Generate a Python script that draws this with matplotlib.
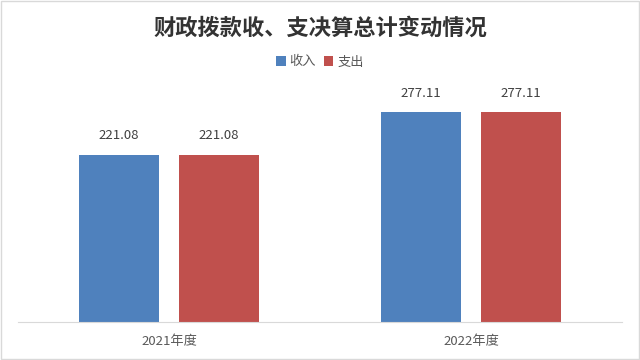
import matplotlib
matplotlib.use("Agg")
import matplotlib.pyplot as plt
import numpy as np

plt.rcParams['font.family'] = ['Noto Sans CJK SC', 'DejaVu Sans']

categories = ["2021年度", "2022年度"]
income = [221.08, 277.11]
expense = [221.08, 277.11]
series_names = ["收入", "支出"]
colors = ["#4F81BD", "#C0504D"]

fig = plt.figure(figsize=(6.4, 3.6), dpi=100)
ax = fig.add_axes([18 / 640, 38 / 360, 604 / 640, 227 / 360])

x = np.arange(len(categories))
w = 0.265
off = 0.166
b1 = ax.bar(x - off, income, w, color=colors[0], label=series_names[0])
b2 = ax.bar(x + off, expense, w, color=colors[1], label=series_names[1])

for bars in (b1, b2):
    for bar in bars:
        h = bar.get_height()
        ax.annotate(f"{h:.2f}", (bar.get_x() + bar.get_width() / 2, h),
                    xytext=(0, 9), textcoords='offset points',
                    ha='center', va='bottom', fontsize=9.5, color='#404040')

ax.set_xlim(-0.5, 1.5)
ax.set_ylim(0, 300)
ax.set_xticks(x)
ax.set_xticklabels(categories, fontsize=9.5, color='#595959')
ax.tick_params(axis='x', length=0, pad=9)
ax.set_yticks([])
for side in ['top', 'left', 'right']:
    ax.spines[side].set_visible(False)
ax.spines['bottom'].set_color('#D9D9D9')

fig.text(0.5, 1 - 28 / 360, "财政拨款收、支决算总计变动情况", ha='center', va='center',
         fontsize=16, fontweight='bold', color='#333333')
fig.legend(handles=[b1, b2], loc='center', bbox_to_anchor=(0.5, 1 - 62 / 360),
           ncol=2, frameon=False, fontsize=9.5, handlelength=0.7, handleheight=0.7,
           handletextpad=0.3, columnspacing=0.6, labelcolor='#595959')

fig.add_artist(plt.Rectangle((0.002, 0.003), 0.996, 0.994, transform=fig.transFigure,
                             fill=False, edgecolor='#D9D9D9', linewidth=1))

fig.savefig("out.png", dpi=100)
